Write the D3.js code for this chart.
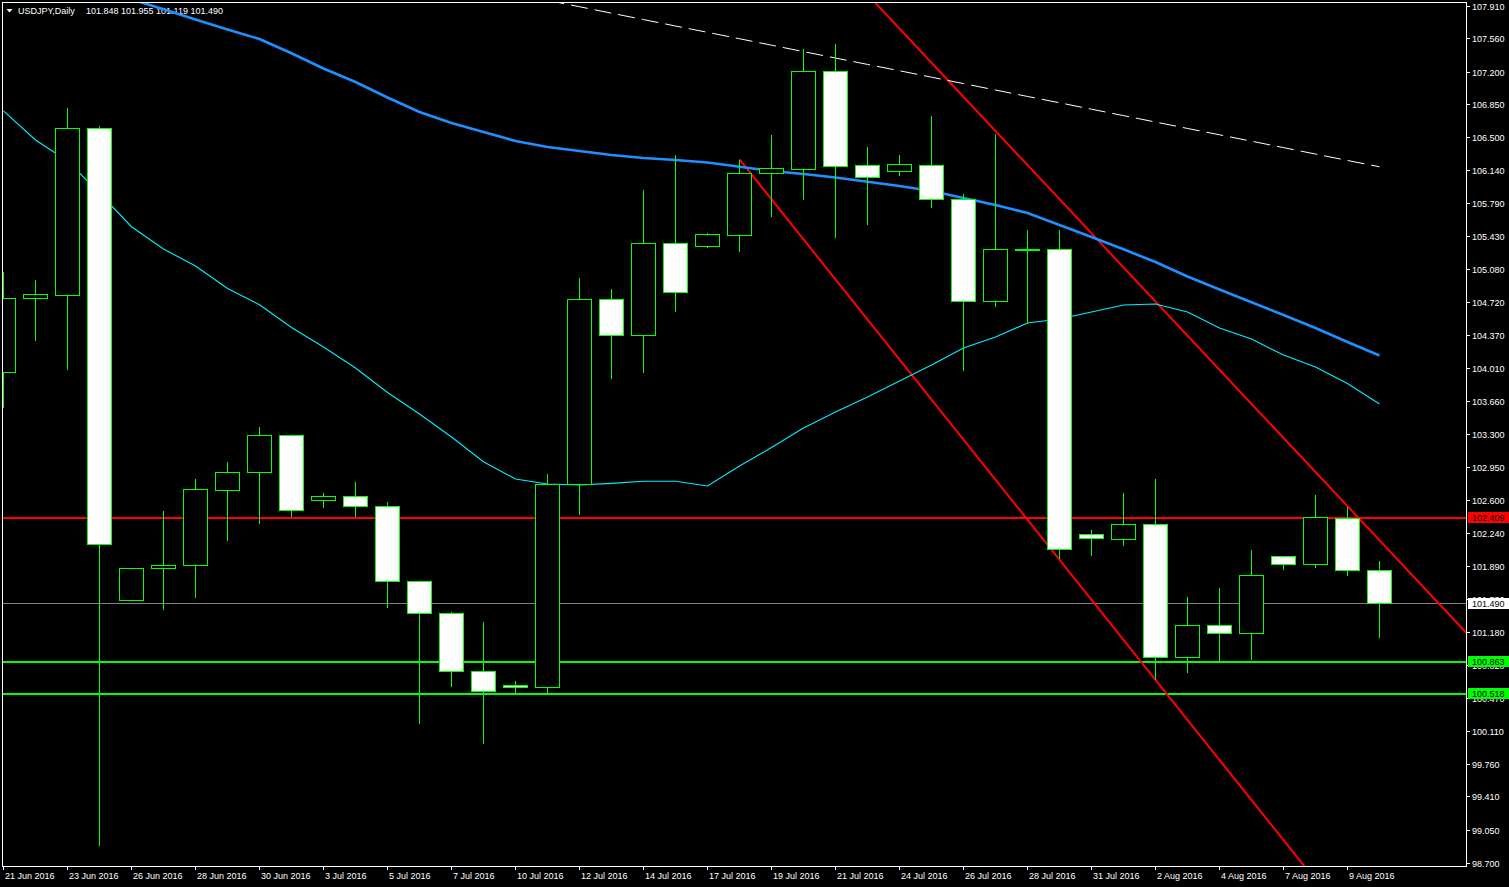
<!DOCTYPE html>
<html><head><meta charset="utf-8">
<script src="https://cdn.jsdelivr.net/npm/d3@7"></script>
<style>
html,body{margin:0;padding:0;background:#000;overflow:hidden;}
svg{display:block;}
text{font-family:"Liberation Sans",Arial,sans-serif;font-size:9px;}
</style></head><body>
<svg id="chart" width="1509" height="887"></svg>
<script>
// ---------- data ----------
const symbolTitle = "USDJPY,Daily";
const lastQuote = "101.848 101.955 101.119 101.490";

const dates = ["21 Jun 2016","22 Jun 2016","23 Jun 2016","24 Jun 2016","26 Jun 2016","27 Jun 2016","28 Jun 2016","29 Jun 2016","30 Jun 2016","1 Jul 2016",
"3 Jul 2016","4 Jul 2016","5 Jul 2016","6 Jul 2016","7 Jul 2016","8 Jul 2016","10 Jul 2016","11 Jul 2016","12 Jul 2016","13 Jul 2016",
"14 Jul 2016","15 Jul 2016","17 Jul 2016","18 Jul 2016","19 Jul 2016","20 Jul 2016","21 Jul 2016","22 Jul 2016","24 Jul 2016","25 Jul 2016",
"26 Jul 2016","27 Jul 2016","28 Jul 2016","29 Jul 2016","31 Jul 2016","1 Aug 2016","2 Aug 2016","3 Aug 2016","4 Aug 2016","5 Aug 2016",
"7 Aug 2016","8 Aug 2016","9 Aug 2016","10 Aug 2016"];

const opens  = [103.973,104.769,104.801,106.596,101.526,101.867,101.899,102.705,102.899,103.296,
102.598,102.641,102.533,101.723,101.383,100.756,100.610,100.588,102.770,104.758,
104.371,105.360,105.328,105.446,106.112,106.155,107.208,106.198,106.134,106.198,
105.833,104.736,105.289,105.288,102.232,102.179,102.340,100.911,101.254,101.168,
101.996,101.910,102.404,101.848];
const highs  = [105.062,104.976,106.814,106.631,101.870,102.483,102.834,103.020,103.396,103.300,
102.687,102.805,102.590,101.738,101.408,101.290,100.656,102.891,104.987,104.879,
105.943,106.319,105.481,106.263,106.534,107.448,107.502,106.405,106.319,106.728,
105.897,106.545,105.503,105.513,102.289,102.687,102.827,101.569,101.666,102.064,
101.998,102.655,102.529,101.955];
const lows   = [103.590,104.313,104.006,98.893,101.520,101.419,101.551,102.164,102.346,102.429,
102.518,102.422,101.444,100.197,100.595,99.982,100.524,100.524,102.447,103.905,
103.969,104.625,105.320,105.270,105.646,105.828,105.420,105.560,106.086,105.742,
103.998,104.683,104.500,101.974,102.002,102.110,100.674,100.745,100.852,100.882,
101.856,101.873,101.787,101.119];
const closes = [104.769,104.812,106.596,102.125,101.867,101.899,102.716,102.899,103.296,102.490,
102.641,102.533,101.723,101.383,100.756,100.541,100.588,102.770,104.758,104.371,
105.360,104.833,105.457,106.112,106.166,107.208,106.187,106.069,106.209,105.833,
104.736,105.295,105.288,102.064,102.189,102.340,100.911,101.254,101.168,101.792,
101.910,102.415,101.846,101.490];

// moving averages (cyan fast, blue slow, white dashed long)
const maFast = [106.782,106.470,106.244,105.900,105.538,105.299,105.116,104.874,104.700,104.455,
104.245,104.020,103.756,103.525,103.278,103.013,102.827,102.773,102.762,102.780,
102.802,102.802,102.751,102.966,103.165,103.375,103.547,103.708,103.880,104.052,
104.235,104.353,104.503,104.546,104.621,104.697,104.707,104.621,104.450,104.331,
104.159,104.030,103.853,103.633];
const maSlow = [null,null,null,108.093,107.982,107.875,107.765,107.657,107.555,107.402,
107.238,107.093,106.927,106.771,106.653,106.556,106.459,106.395,106.352,106.309,
106.276,106.255,106.228,106.183,106.137,106.105,106.067,106.022,105.976,105.922,
105.847,105.771,105.685,105.556,105.427,105.295,105.159,105.003,104.864,104.727,
104.589,104.450,104.299,104.154];
const maLong = [null,null,null,null,null,null,null,null,null,null,
null,null,null,null,null,null,null,107.971,107.902,107.833,
107.764,107.695,107.627,107.558,107.489,107.420,107.351,107.282,107.214,107.145,
107.076,107.007,106.938,106.870,106.801,106.732,106.663,106.594,106.526,106.457,
106.388,106.319,106.250,106.182];

const priceTicks = [107.910,107.560,107.200,106.850,106.500,106.140,105.790,105.430,105.080,104.720,
104.370,104.010,103.660,103.300,102.950,102.600,102.240,101.890,101.530,101.180,
100.820,100.470,100.110,99.760,99.410,99.050,98.700];
const priceMin = 98.700, priceMax = 107.910;

const levelPrices = [102.409, 100.863, 100.518];
const levelColors = ["#ff0000", "#00ff00", "#00ff00"];
const bidPrice = 101.490;

// trend lines: anchor (bar index, price) pairs, drawn as rays to the right
const trendStartIdx = [23, 26];
const trendStartPrice = [106.263, 108.400];
const trendEndIdx = [33, 42];
const trendEndPrice = [101.959, 102.535];

// ---------- layout ----------
const svg = d3.select("#chart");
const L = 3, T = 3, R = 1466, B = 866;
const x = d3.scaleLinear().domain([0, dates.length - 1]).range([3.5, 1379.5]);
const y = d3.scaleLinear().domain([priceMin, priceMax]).range([863, 6]);
const py = v => Math.floor(y(v)) + 0.5;
const green = "#00ff00";

svg.append("rect").attr("width", 1509).attr("height", 887).attr("fill", "#000");

svg.append("defs").append("clipPath").attr("id", "plotClip")
  .append("rect").attr("x", L).attr("y", T).attr("width", R - L).attr("height", B - T);

// title
svg.append("path").attr("d", "M6.5,9 L12.5,9 L9.5,12.5 Z").attr("fill", "#fff");
svg.append("text").attr("x", 18).attr("y", 14).attr("fill", "#fff").text(symbolTitle);
svg.append("text").attr("x", 86).attr("y", 14).attr("fill", "#fff").text(lastQuote);

const g = svg.append("g").attr("clip-path", "url(#plotClip)");

// horizontal levels
g.selectAll("line.level").data(levelPrices).enter().append("line")
  .attr("x1", L).attr("x2", R)
  .attr("y1", d => Math.floor(y(d)) + 1).attr("y2", d => Math.floor(y(d)) + 1)
  .attr("stroke", (d, i) => levelColors[i]).attr("stroke-width", 2)
  .attr("shape-rendering", "crispEdges");
g.append("line").attr("x1", L).attr("x2", R).attr("y1", py(bidPrice)).attr("y2", py(bidPrice))
  .attr("stroke", "#808080").attr("stroke-width", 1).attr("shape-rendering", "crispEdges");

// trend lines
trendStartIdx.forEach((i1, k) => {
  const slope = (trendEndPrice[k] - trendStartPrice[k]) / (trendEndIdx[k] - i1);
  const iFar = 55;
  g.append("line")
    .attr("x1", x(i1)).attr("y1", y(trendStartPrice[k]))
    .attr("x2", x(iFar)).attr("y2", y(trendStartPrice[k] + slope * (iFar - i1)))
    .attr("stroke", "#ff0000").attr("stroke-width", 2);
});

// moving averages
const lineGen = d3.line().defined(d => d != null).x((d, i) => x(i)).y(d => y(d));
g.append("path").attr("d", lineGen(maLong)).attr("fill", "none")
  .attr("stroke", "#ffffff").attr("stroke-width", 1).attr("stroke-dasharray", "17,7");
g.append("path").attr("d", lineGen(maSlow)).attr("fill", "none")
  .attr("stroke", "#1e90ff").attr("stroke-width", 2.6);
g.append("path").attr("d", lineGen(maFast)).attr("fill", "none")
  .attr("stroke", "#00f0ff").attr("stroke-width", 1.1);

// candles
const idx = d3.range(dates.length);
const half = (x(1) - x(0)) * 0.375;
const cg = g.append("g").attr("shape-rendering", "crispEdges");
cg.selectAll("line.wick").data(idx).enter().append("line")
  .attr("x1", i => x(i)).attr("x2", i => x(i))
  .attr("y1", i => py(highs[i])).attr("y2", i => py(lows[i]))
  .attr("stroke", green).attr("stroke-width", 1);
cg.selectAll("rect.body").data(idx).enter().append("rect")
  .attr("x", i => x(i) - half)
  .attr("width", half * 2)
  .attr("y", i => py(Math.max(opens[i], closes[i])))
  .attr("height", i => Math.max(1, py(Math.min(opens[i], closes[i])) - py(Math.max(opens[i], closes[i]))))
  .attr("fill", i => closes[i] < opens[i] ? "#ffffff" : "#000000")
  .attr("stroke", green).attr("stroke-width", 1);

// frame
svg.append("rect").attr("x", 2.5).attr("y", 2.5).attr("width", R - 2).attr("height", B - 2)
  .attr("fill", "none").attr("stroke", "#fff").attr("stroke-width", 1).attr("shape-rendering", "crispEdges");

// price axis
const ax = svg.append("g");
priceTicks.forEach(p => {
  const ty = py(p);
  ax.append("line").attr("x1", R).attr("x2", R + 4).attr("y1", ty).attr("y2", ty)
    .attr("stroke", "#fff").attr("shape-rendering", "crispEdges");
  ax.append("text").attr("x", R + 6).attr("y", ty + 3.3).attr("fill", "#fff").text(p.toFixed(3));
});

// price labels for levels and bid
const boxes = levelPrices.map((p, i) => ({p, c: levelColors[i]})).concat([{p: bidPrice, c: "#ffffff"}]);
boxes.forEach(b => {
  const ty = py(b.p);
  ax.append("rect").attr("x", R + 2).attr("y", ty - 5.5).attr("width", 1509 - R - 2).attr("height", 11)
    .attr("fill", b.c);
  ax.append("text").attr("x", R + 6).attr("y", ty + 3.3).attr("fill", "#000").text(b.p.toFixed(3));
});

// time axis
const tg = svg.append("g");
idx.filter(i => i % 2 === 0).forEach(i => {
  const tx = Math.floor(x(i)) + 0.5;
  tg.append("line").attr("x1", tx).attr("x2", tx).attr("y1", B).attr("y2", B + 4)
    .attr("stroke", "#fff").attr("shape-rendering", "crispEdges");
  tg.append("text").attr("x", tx + 1.5).attr("y", 879).attr("fill", "#fff").text(dates[i]);
});
</script>
</body></html>
